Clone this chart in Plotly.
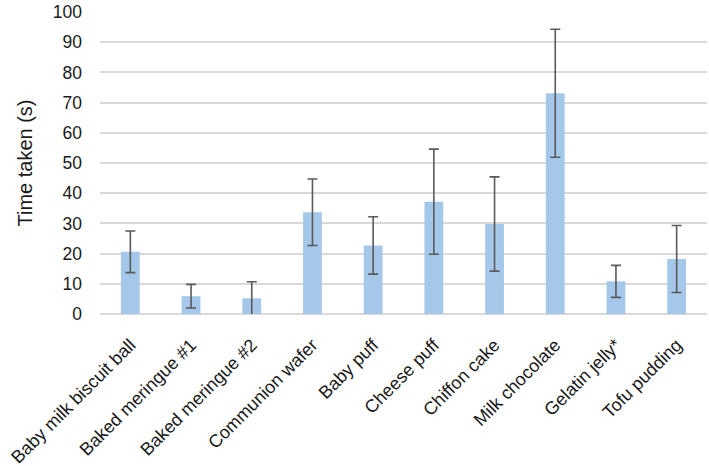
import plotly.graph_objects as go

categories = ["Baby milk biscuit ball", "Baked meringue #1", "Baked meringue #2",
              "Communion wafer", "Baby puff", "Cheese puff", "Chiffon cake",
              "Milk chocolate", "Gelatin jelly*", "Tofu pudding"]
means = [20.6, 5.9, 5.2, 33.7, 22.7, 37.2, 29.8, 73.1, 10.8, 18.2]
errors = [6.9, 3.9, 5.5, 11.0, 9.5, 17.4, 15.6, 21.2, 5.3, 11.1]
y_ticks = list(range(0, 101, 10))

fig = go.Figure(go.Bar(
    x=categories, y=means,
    marker=dict(color="#a5c8ea", line=dict(width=0)),
    error_y=dict(type="data", array=errors, visible=True,
                 color="#5a5a5a", thickness=1.6, width=5),
))

fig.update_layout(
    width=709, height=466,
    margin=dict(l=100, r=2, t=12, b=152),
    plot_bgcolor="white", paper_bgcolor="white",
    bargap=0.69,
    showlegend=False,
    font=dict(family="Liberation Sans, Arial, sans-serif", color="#1a1a1a"),
)
fig.update_yaxes(
    range=[0, 100], tickvals=y_ticks, ticks="", showline=False, automargin=False,
    gridcolor="#d9d9d9", gridwidth=1.5, zeroline=True, zerolinecolor="#d9d9d9", zerolinewidth=1.5,
    tickfont=dict(size=17.5), ticklabelstandoff=17,
    title=dict(text="Time taken (s)", font=dict(size=20), standoff=14),
)
fig.update_xaxes(
    tickangle=-45, tickfont=dict(size=18), showline=False, ticks="",
    ticklabelstandoff=16, automargin=False,
)

fig.write_html("out.html")
